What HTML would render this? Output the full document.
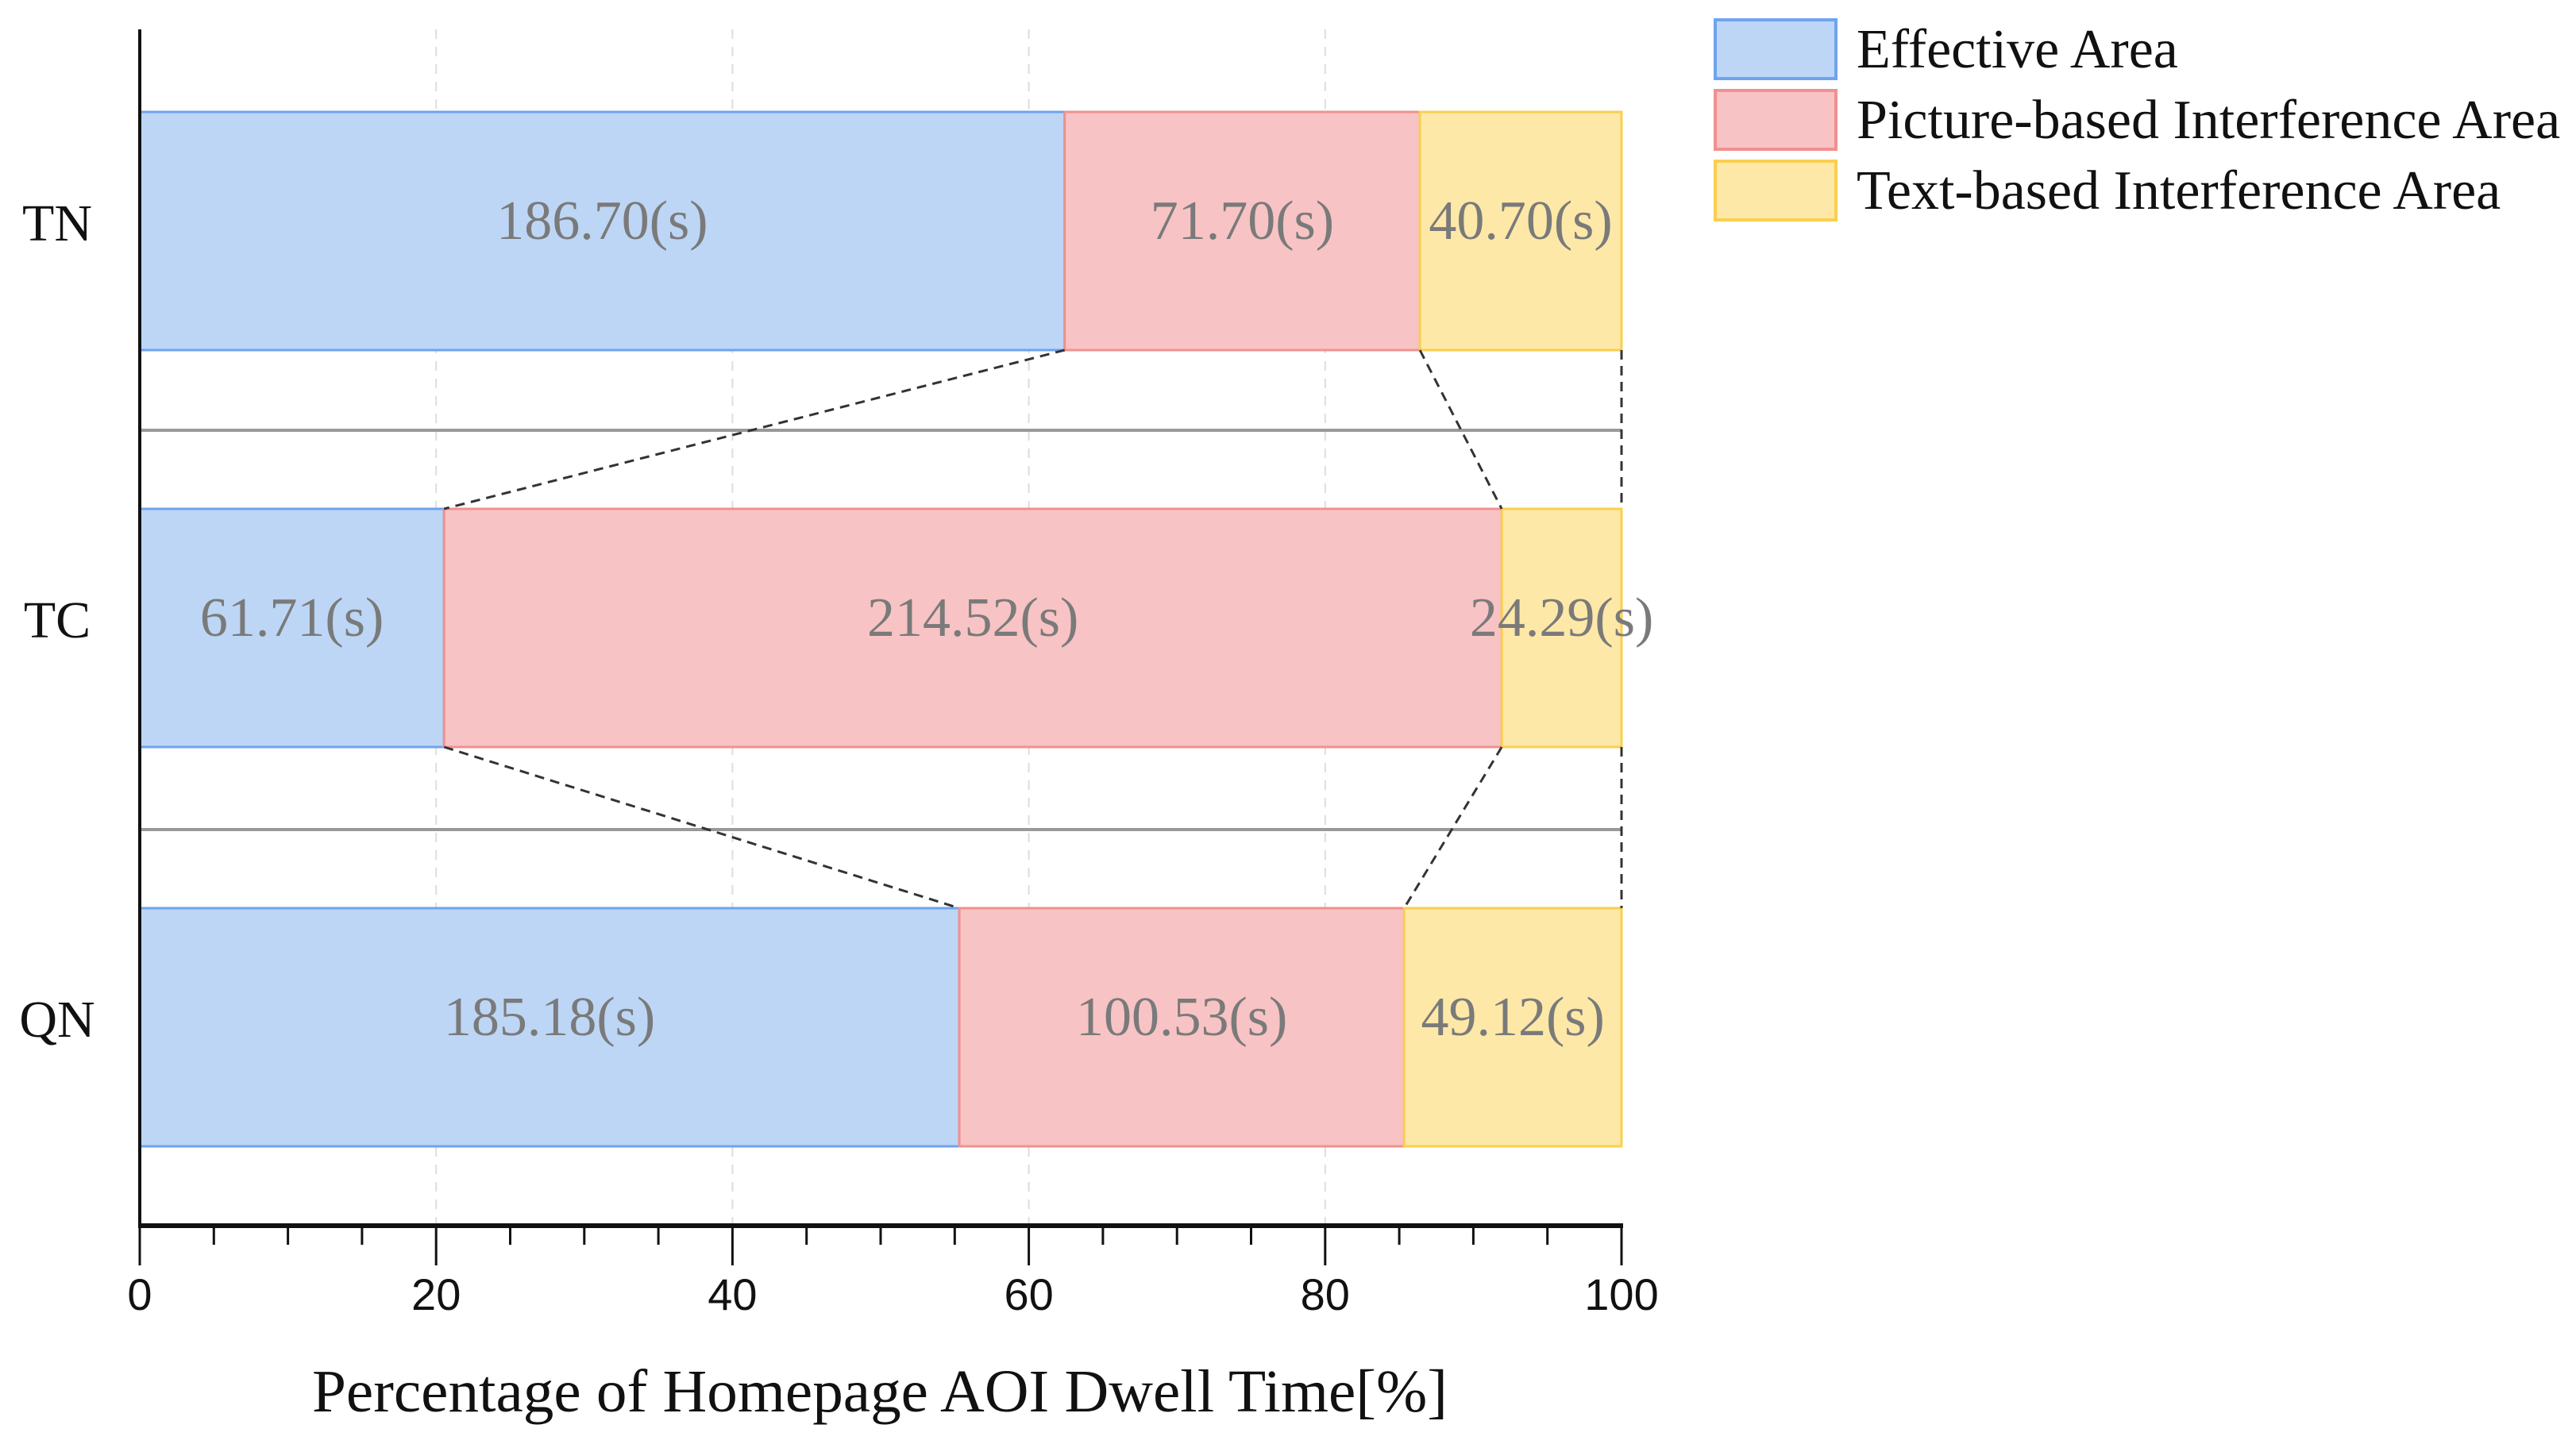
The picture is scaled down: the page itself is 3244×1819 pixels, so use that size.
<!DOCTYPE html>
<html><head><meta charset="utf-8"><style>
html,body{margin:0;padding:0;background:#fff;}
svg{display:block;font-family:"Liberation Serif",serif;}
</style></head><body>
<svg id="chart" width="3244" height="1819" viewBox="0 0 3244 1819" xmlns="http://www.w3.org/2000/svg"></svg>
<script>
const categories = ["TN","TC","QN"];
const effective = [186.70, 61.71, 185.18];
const picture = [71.70, 214.52, 100.53];
const textArea = [40.70, 24.29, 49.12];
const xTicks = [0,20,40,60,80,100];
const seriesNames = ["Effective Area","Picture-based Interference Area","Text-based Interference Area"];

const NS="http://www.w3.org/2000/svg";
const svg=document.getElementById('chart');
const X0=176, X1=2042, YTOP=37, YAX=1544;
const xs=v=>X0+(X1-X0)*v/100;
const barTop=[141,641,1144], barH=300;
function el(tag,attrs,parent){const e=document.createElementNS(NS,tag);for(const k in attrs)e.setAttribute(k,attrs[k]);(parent||svg).appendChild(e);return e;}
const fills=["#bdd6f5","#f8c3c4","#fde8a8"], strokes=["#6fa3ee","#f09090","#f8cf50"];

for(const t of xTicks){ if(t===0||t===100) continue;
  const g=el('line',{x1:xs(t),x2:xs(t),y1:YTOP,y2:YAX,stroke:'#dddddd','stroke-width':2,'stroke-dasharray':'12,10'});
  
  
}
for(const y of [542,1045]){
  const s=el('line',{x1:X0,x2:X1,y1:y,y2:y,stroke:'#999',"stroke-width":4});
  
  
}
const bounds=[];
categories.forEach((c,i)=>{
  const vals=[effective[i],picture[i],textArea[i]];
  const tot=vals.reduce((a,b)=>a+b,0);
  let cum=0; const b=[0];
  vals.forEach((v,j)=>{
    const p0=cum/tot*100; cum+=v; const p1=cum/tot*100; b.push(p1);
    const r=el('rect',{x:xs(p0),y:barTop[i],width:xs(p1)-xs(p0),height:barH,fill:fills[j],stroke:strokes[j],'stroke-width':3});
    
    
    const t=el('text',{x:(xs(p0)+xs(p1))/2,y:barTop[i]+barH/2+10,'text-anchor':'middle','font-size':70,fill:'#7a7a7a'});
    t.textContent=v.toFixed(2)+'(s)';
    
    
  });
  bounds.push(b);
  const lab=el('text',{x:72,y:barTop[i]+barH/2+12,'text-anchor':'middle','font-size':66,fill:'#111'});
  lab.textContent=c;
  
  
});
for(let i=0;i<categories.length-1;i++){
  for(const k of [1,2,3]){
    const l=el('line',{x1:xs(bounds[i][k]),y1:barTop[i]+barH,x2:xs(bounds[i+1][k]),y2:barTop[i+1],stroke:'#333','stroke-width':3,'stroke-dasharray':'12,8'});
    
    
  }
}
const ya=el('line',{x1:X0,x2:X0,y1:YTOP,y2:YAX,stroke:'#111','stroke-width':4});


const xa=el('line',{x1:X0-2,x2:X1+2,y1:YAX,y2:YAX,stroke:'#111','stroke-width':6});


for(let v=0;v<=100;v+=5){
  const major=v%20===0;
  const tk=el('line',{x1:xs(v),x2:xs(v),y1:YAX,y2:YAX+(major?50:24),stroke:'#111','stroke-width':3});
  
  
}
for(const t of xTicks){
  const tl=el('text',{x:xs(t),y:1650,'text-anchor':'middle','font-size':56,fill:'#111','font-family':'"Liberation Sans",sans-serif'});
  tl.textContent=String(t);
  
  
}
const xt=el('text',{x:1108,y:1778,'text-anchor':'middle','font-size':76,fill:'#111',textLength:1430,lengthAdjust:'spacingAndGlyphs'});
xt.textContent='Percentage of Homepage AOI Dwell Time[%]';


const ly=[25,114,203];
seriesNames.forEach((n,j)=>{
  const r=el('rect',{x:2160,y:ly[j],width:152,height:74,fill:fills[j],stroke:strokes[j],'stroke-width':4});
  
  
  const t=el('text',{x:2338,y:ly[j]+60,'font-size':70,fill:'#111'});
  t.textContent=n;
  
  
});
</script>
</body></html>
